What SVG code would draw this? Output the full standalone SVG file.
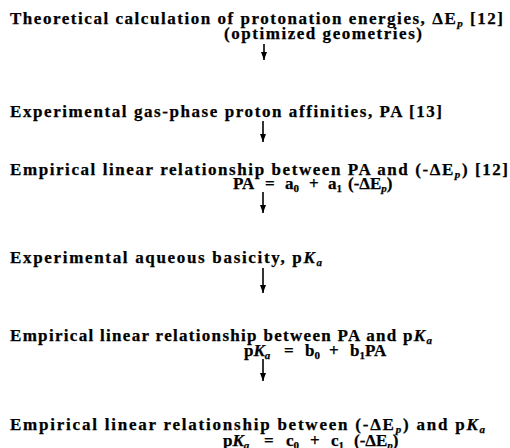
<svg xmlns="http://www.w3.org/2000/svg" width="510" height="448" viewBox="0 0 510 448">
<style>
text{font-family:"Liberation Serif","Times New Roman",serif;font-size:17px;font-weight:bold;fill:#000;stroke:#000;stroke-width:0.25}
.s{font-size:11px;font-style:italic}
.n{font-size:11px}
.i{font-style:italic}
.c{stroke:#000;stroke-width:1.6;fill:none}
</style>
<defs>
<marker id="ah" viewBox="0 0 8 6" refX="8" refY="3" markerWidth="8" markerHeight="6" markerUnits="userSpaceOnUse" orient="auto">
<path d="M0,0 L8,3 L0,6 Z" fill="#000"/>
</marker>
</defs>
<rect width="510" height="448" fill="#fff"/>
<g id="n1">
<text x="10" y="24" textLength="493" lengthAdjust="spacing">Theoretical calculation of protonation energies, ΔE<tspan class="s" dy="3">p</tspan><tspan dy="-3"> [12]</tspan></text>
<text x="224" y="39" textLength="198" lengthAdjust="spacing">(optimized geometries)</text>
</g>
<g id="n2">
<text x="10" y="117" textLength="432" lengthAdjust="spacing">Experimental gas-phase proton affinities, PA [13]</text>
</g>
<g id="n3">
<text x="10" y="175" textLength="498" lengthAdjust="spacing">Empirical linear relationship between PA and (-ΔE<tspan class="s" dy="3">p</tspan><tspan dy="-3">) [12]</tspan></text>
<text x="233" y="189">PA</text>
<text x="265" y="189">=</text>
<text x="285" y="189">a<tspan class="n" dy="3">0</tspan></text>
<text x="309" y="189">+</text>
<text x="328" y="189">a<tspan class="n" dy="3">1</tspan></text>
<text x="348" y="189">(-ΔE<tspan class="s" dy="3">p</tspan><tspan dy="-3">)</tspan></text>
</g>
<g id="n4">
<text x="10" y="263" textLength="312" lengthAdjust="spacing">Experimental aqueous basicity, p<tspan class="i">K</tspan><tspan class="s" dy="3">a</tspan></text>
</g>
<g id="n5">
<text x="10" y="341" textLength="422" lengthAdjust="spacing">Empirical linear relationship between PA and p<tspan class="i">K</tspan><tspan class="s" dy="3">a</tspan></text>
<text x="244" y="356">p<tspan class="i">K</tspan><tspan class="s" dy="3">a</tspan></text>
<text x="284" y="356">=</text>
<text x="305" y="356">b<tspan class="n" dy="3">0</tspan></text>
<text x="329" y="356">+</text>
<text x="350" y="356">b<tspan class="n" dy="3">1</tspan><tspan dy="-3">PA</tspan></text>
</g>
<g id="n6">
<text x="10" y="430" textLength="475" lengthAdjust="spacing">Empirical linear relationship between (-ΔE<tspan class="s" dy="3">p</tspan><tspan dy="-3">) and p</tspan><tspan class="i">K</tspan><tspan class="s" dy="3">a</tspan></text>
<text x="223" y="446">p<tspan class="i">K</tspan><tspan class="s" dy="3">a</tspan></text>
<text x="264" y="446">=</text>
<text x="286" y="446">c<tspan class="n" dy="3">0</tspan></text>
<text x="310" y="446">+</text>
<text x="331" y="446">c<tspan class="n" dy="3">1</tspan></text>
<text x="354" y="446">(-ΔE<tspan class="s" dy="3">p</tspan><tspan dy="-3">)</tspan></text>
</g>
<g id="connectors">
<line class="c" x1="264" y1="44" x2="264" y2="60" marker-end="url(#ah)"/>
<line class="c" x1="263" y1="121" x2="263" y2="142" marker-end="url(#ah)"/>
<line class="c" x1="263" y1="192" x2="263" y2="213" marker-end="url(#ah)"/>
<line class="c" x1="263" y1="268" x2="263" y2="293" marker-end="url(#ah)"/>
<line class="c" x1="263" y1="359" x2="263" y2="381" marker-end="url(#ah)"/>
</g>
</svg>
